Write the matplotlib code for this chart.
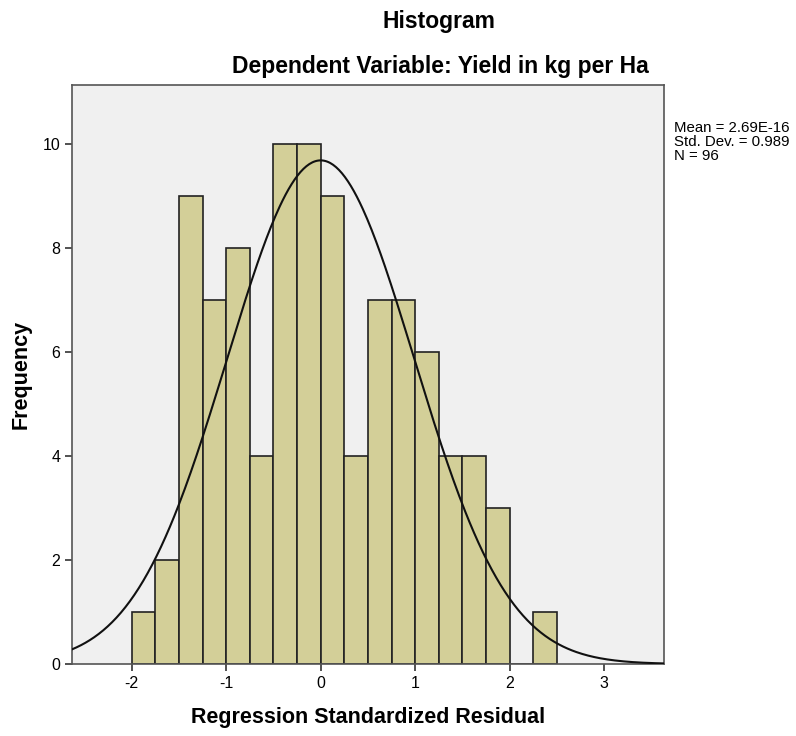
import matplotlib
matplotlib.use("Agg")
import matplotlib.pyplot as plt
import numpy as np

# histogram data
bin_edges = np.arange(-2.0, 2.51, 0.25)
counts = [1, 2, 9, 7, 8, 4, 10, 10, 9, 4, 7, 7, 6, 4, 4, 3, 0, 1]
mean = 2.69e-16
std = 0.989
n = 96
xticks = [-2, -1, 0, 1, 2, 3]
yticks = [0, 2, 4, 6, 8, 10]
stats_lines = ['Mean = 2.69E-16', 'Std. Dev. = 0.989', 'N = 96']

plt.rcParams['font.family'] = ['Liberation Sans', 'DejaVu Sans']
plt.rcParams['axes.unicode_minus'] = False

fig = plt.figure(figsize=(7.96, 7.36), dpi=100)
ax = fig.add_axes([0.0905, 0.0978, 0.7435, 0.7867])
ax.set_facecolor('#f0f0f0')

widths = np.diff(bin_edges)
ax.bar(bin_edges[:-1], counts, width=widths, align='edge',
       color='#d3cf98', edgecolor='#222222', linewidth=1.2, zorder=2)

# normal curve scaled to counts
xs = np.linspace(-2.63, 3.63, 400)
bw = widths[0]
ys = n * bw / (std * np.sqrt(2 * np.pi)) * np.exp(-0.5 * ((xs - mean) / std) ** 2)
ax.plot(xs, ys, color='#111111', linewidth=1.5, zorder=3)

ax.set_xlim(-2.63, 3.63)
ax.set_ylim(0, 11.13)
ax.set_xticks(xticks)
ax.set_yticks(yticks)
ax.tick_params(direction='out', length=5, width=1.2, labelsize=11.5, color='#333333')
for s in ax.spines.values():
    s.set_color('#555555')
    s.set_linewidth(1.2)

ax.set_xlabel('Regression Standardized Residual', fontsize=15.5, fontweight='bold', labelpad=12)
ax.set_ylabel('Frequency', fontsize=15.5, fontweight='bold', labelpad=8)

fig.text(0.552, 0.962, 'Histogram', ha='center', va='baseline', fontsize=16.5, fontweight='bold')
fig.text(0.553, 0.9008, 'Dependent Variable: Yield in kg per Ha', ha='center', va='baseline',
         fontsize=16.5, fontweight='bold')

for i, line in enumerate(stats_lines):
    fig.text(0.8467, 1 - (132 + 14 * i) / 736, line, ha='left', va='baseline', fontsize=10.8)

fig.savefig('out.png', dpi=100)
